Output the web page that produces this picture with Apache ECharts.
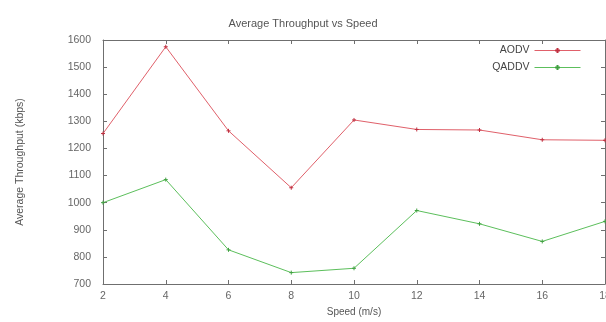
<!DOCTYPE html>
<html>
<head>
<meta charset="utf-8">
<script src="https://cdn.jsdelivr.net/npm/echarts@6/dist/echarts.min.js"></script>
<style>
  html, body { margin: 0; padding: 0; background: #fff; }
  #main { width: 606px; height: 322px; }
</style>
</head>
<body>
<div id="main"></div>
<script>
// data
const speeds = [2, 4, 6, 8, 10, 12, 14, 16, 18];
const aodv = [1255, 1575, 1265, 1055, 1305, 1270, 1268, 1232, 1230];
const qaddv = [1000, 1085, 826, 742, 758, 971, 922, 857, 931];
const seriesNames = ['AODV', 'QADDV'];

const chart = echarts.init(document.getElementById('main'));
const font = 'Liberation Sans, Arial, sans-serif';
const axisColor = '#6f6f6f';

function pairs(vals) {
  return speeds.map((s, i) => [s, vals[i]]);
}

const plusPath = 'path://M5,0L5,10M0,5L10,5';

const option = {
  animation: false,
  backgroundColor: '#fff',
  title: {
    text: 'Average Throughput vs Speed',
    left: 'center',
    top: 13,
    textStyle: { fontFamily: font, fontSize: 11, fontWeight: 'normal', color: '#555' }
  },
  legend: {
    orient: 'vertical',
    right: 20,
    top: 40,
    align: 'right',
    itemWidth: 46,
    itemHeight: 6,
    itemGap: 6,
    data: seriesNames,
    lineStyle: { width: 1 },
    textStyle: { fontFamily: font, fontSize: 10.5, color: '#444' }
  },
  grid: { left: 103, right: 1, top: 40, bottom: 38, outerBoundsMode: 'none', containLabel: false },
  xAxis: [
    {
      type: 'value', min: 2, max: 18, interval: 2,
      name: 'Speed (m/s)', nameLocation: 'middle', nameGap: 22,
      nameTextStyle: { fontFamily: font, fontSize: 10, color: '#555' },
      axisLine: { lineStyle: { color: axisColor } },
      axisTick: { inside: true, length: 4, lineStyle: { color: axisColor } },
      axisLabel: { fontFamily: font, fontSize: 10.5, color: '#666', margin: 7, showMaxLabel: true },
      splitLine: { show: false }
    },
    {
      type: 'value', min: 2, max: 18, interval: 2, position: 'top',
      axisLine: { lineStyle: { color: axisColor } },
      axisTick: { inside: true, length: 4, lineStyle: { color: axisColor } },
      axisLabel: { show: false },
      splitLine: { show: false }
    }
  ],
  yAxis: [
    {
      type: 'value', min: 700, max: 1600, interval: 100,
      name: 'Average Throughput (kbps)', nameLocation: 'middle', nameGap: 77, nameRotate: 90,
      nameTextStyle: { fontFamily: font, fontSize: 10.5, color: '#555' },
      axisLine: { show: true, lineStyle: { color: axisColor } },
      axisTick: { show: true, inside: true, length: 4, lineStyle: { color: axisColor } },
      axisLabel: { fontFamily: font, fontSize: 10.5, color: '#666', margin: 12, formatter: v => String(v) },
      splitLine: { show: false }
    },
    {
      type: 'value', min: 700, max: 1600, interval: 100, position: 'right',
      axisLine: { show: true, lineStyle: { color: axisColor } },
      axisTick: { show: true, inside: true, length: 4, lineStyle: { color: axisColor } },
      axisLabel: { show: false },
      splitLine: { show: false }
    }
  ],
  series: [
    {
      name: seriesNames[0], type: 'line', data: pairs(aodv),
      symbol: plusPath, symbolSize: 4, showSymbol: true,
      lineStyle: { color: '#e0606a', width: 1 },
      itemStyle: { color: '#d04050', borderWidth: 1, borderColor: '#c03040' }
    },
    {
      name: seriesNames[1], type: 'line', data: pairs(qaddv),
      symbol: plusPath, symbolSize: 4, showSymbol: true,
      lineStyle: { color: '#5cbf5c', width: 1 },
      itemStyle: { color: '#40a040', borderWidth: 1, borderColor: '#40a040' }
    }
  ]
};

chart.setOption(option);
</script>
</body>
</html>
